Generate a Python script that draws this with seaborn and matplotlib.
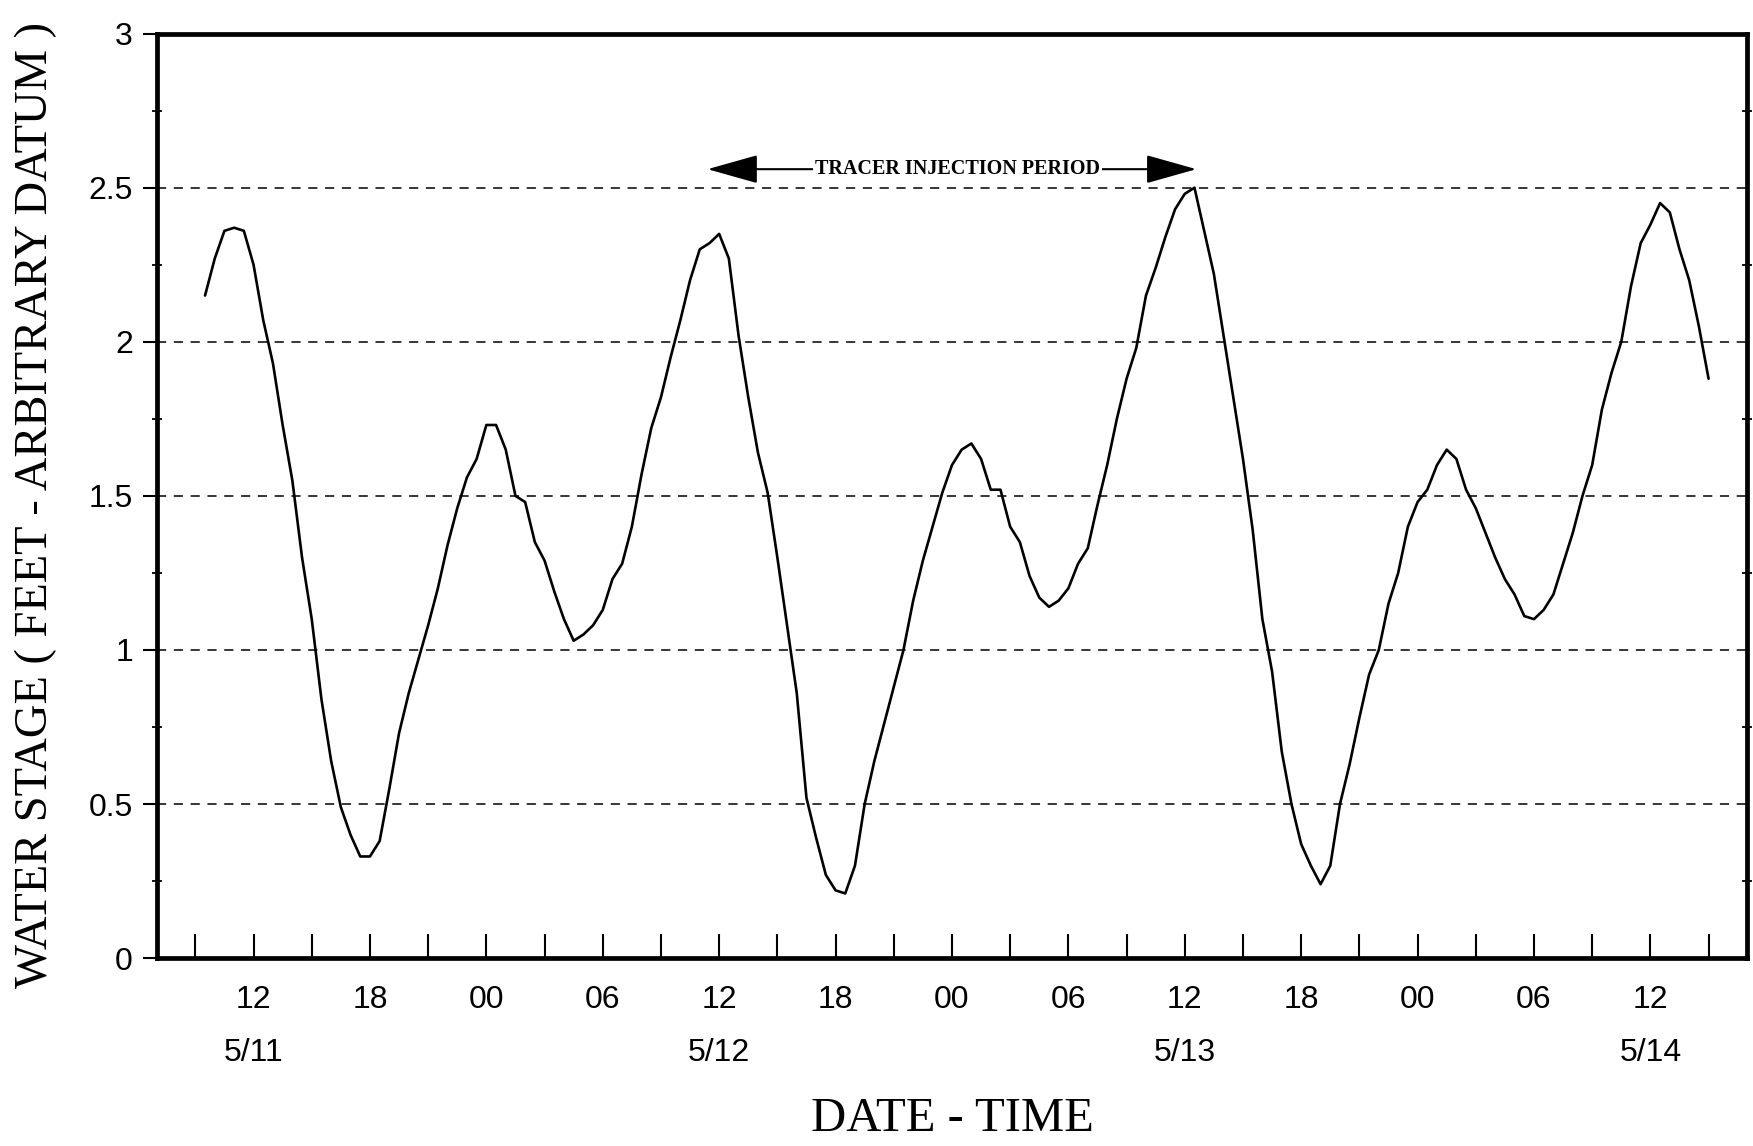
import numpy as np
import pandas as pd
import matplotlib
matplotlib.use("Agg")
import matplotlib.pyplot as plt
import seaborn as sns
from matplotlib import font_manager
from matplotlib.ticker import FixedLocator, MultipleLocator

# ---------------- data ----------------
# time in hours since 5/11 00:00, half-hourly readings
hours = np.arange(9.5, 87.01, 0.5)
stage = [
    2.15, 2.27, 2.36, 2.37, 2.36,
    2.25, 2.07, 1.93, 1.73, 1.55, 1.30, 1.10, 0.84, 0.64, 0.49, 0.40, 0.33,
    0.33, 0.38, 0.55, 0.73, 0.86, 0.97, 1.08, 1.20, 1.34, 1.46, 1.56, 1.62,
    1.73, 1.73, 1.65, 1.50, 1.48, 1.35, 1.29, 1.19, 1.10, 1.03, 1.05, 1.08,
    1.13, 1.23, 1.28, 1.40, 1.57, 1.72, 1.82, 1.95, 2.07, 2.20, 2.30, 2.32,
    2.35, 2.27, 2.02, 1.82, 1.64, 1.51, 1.30, 1.08, 0.86, 0.52, 0.39, 0.27,
    0.22, 0.21, 0.30, 0.50, 0.64, 0.76, 0.88, 1.00, 1.16, 1.29, 1.40, 1.51,
    1.60, 1.65, 1.67, 1.62, 1.52, 1.52, 1.40, 1.35, 1.24, 1.17, 1.14, 1.16,
    1.20, 1.28, 1.33, 1.47, 1.60, 1.75, 1.88, 1.98, 2.15, 2.24, 2.34, 2.43,
    2.48, 2.50, 2.36, 2.22, 2.02, 1.82, 1.62, 1.39, 1.10, 0.93, 0.67, 0.50,
    0.37, 0.30, 0.24, 0.30, 0.50, 0.63, 0.78, 0.92, 1.00, 1.15, 1.25, 1.40,
    1.48, 1.52, 1.60, 1.65, 1.62, 1.52, 1.46, 1.38, 1.30, 1.23, 1.18, 1.11,
    1.10, 1.13, 1.18, 1.28, 1.38, 1.50, 1.60, 1.78, 1.90, 2.00, 2.18, 2.32,
    2.38, 2.45, 2.42, 2.30, 2.20, 2.05, 1.88,
]
tick_hours = list(range(9, 88, 3))
date_labels = {12: "5/11", 36: "5/12", 60: "5/13", 84: "5/14"}
y_ticks = [0, 0.5, 1, 1.5, 2, 2.5, 3]
y_tick_labels = ["0", "0.5", "1", "1.5", "2", "2.5", "3"]
x_title = "DATE - TIME"
y_title = "WATER STAGE ( FEET - ARBITRARY DATUM )"
note_text = "TRACER INJECTION PERIOD"
note_start, note_end, note_level = 35.4, 60.6, 2.56

df = pd.DataFrame({"hours": hours, "stage": stage})

# ---------------- style ----------------
sns.set_style("white")
names = {f.name for f in font_manager.fontManager.ttflist}
sans = "Liberation Sans Narrow" if "Liberation Sans Narrow" in names else "Liberation Sans"
serif = "Liberation Serif"
plt.rcParams["font.family"] = [sans, "DejaVu Sans"]
plt.rcParams["text.color"] = "black"
plt.rcParams["axes.labelcolor"] = "black"
plt.rcParams["xtick.color"] = "black"
plt.rcParams["ytick.color"] = "black"

fig = plt.figure(figsize=(17.53, 11.46), dpi=100)
ax = fig.add_axes([0.0893, 0.1639, 0.9075, 0.8068])

sns.lineplot(data=df, x="hours", y="stage", color="black", linewidth=1.9, ax=ax)

ax.set_xlim(7, 89)
ax.set_ylim(0, 3)

# grid
ax.set_yticks(y_ticks)
ax.set_yticklabels(y_tick_labels)
ax.yaxis.set_minor_locator(MultipleLocator(0.25))
ax.grid(axis="y", which="major", color="black", linestyle=(0, (6, 5)), linewidth=1.1)
ax.grid(axis="x", visible=False)

# x ticks
labels = []
for h in tick_hours:
    if h % 6 == 0:
        lab = f"{h % 24:02d}"
        if h in date_labels:
            lab = lab + "\n" + date_labels[h]
        labels.append(lab)
    else:
        labels.append("")
ax.xaxis.set_major_locator(FixedLocator(tick_hours))
ax.set_xticklabels(labels)
for t in ax.get_xticklabels():
    t.set_linespacing(2.0)

ax.tick_params(axis="x", which="major", direction="in", length=17, width=1.5,
               pad=19, labelsize=23, bottom=True, top=False, labelcolor="black")
ax.tick_params(axis="y", which="major", direction="out", length=10, width=1.5,
               pad=7, labelsize=23, left=True, right=False, labelcolor="black")
ax.tick_params(axis="y", which="minor", direction="inout", length=7, width=1.3,
               left=True, right=True)

for s in ax.spines.values():
    s.set_visible(True)
    s.set_linewidth(3.4)
    s.set_color("black")

ax.set_xlabel(x_title, fontsize=35, family=serif, color="black")
ax.xaxis.set_label_coords(0.5, -0.15)
ax.set_ylabel(y_title, fontsize=33.5, family=serif, color="black")
ax.yaxis.set_label_coords(-0.0625, 0.49)

# annotation
ax.annotate("", xy=(note_start, note_level), xytext=(note_end, note_level),
            arrowprops=dict(arrowstyle="<|-|>,head_length=1.6,head_width=0.45",
                            mutation_scale=20, color="black", lw=1.5,
                            shrinkA=0, shrinkB=0))
ax.text((note_start + note_end) / 2 + 0.3, note_level, note_text, ha="center", va="center",
        fontsize=14.5, family=serif, fontweight="bold", color="black",
        bbox=dict(facecolor="white", edgecolor="none", pad=1.5))

fig.savefig("out.png", dpi=100, facecolor="white")
